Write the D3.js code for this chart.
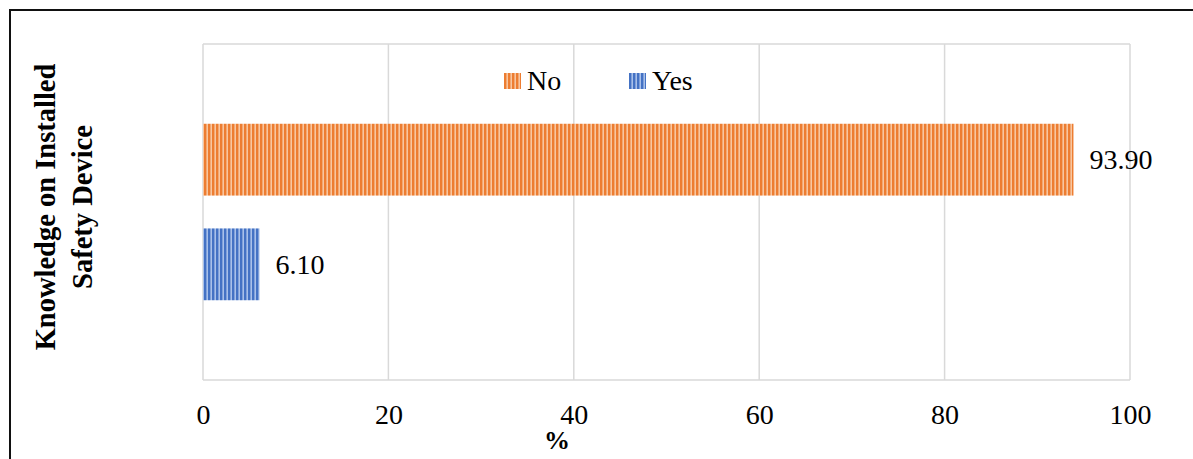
<!DOCTYPE html>
<html>
<head>
<meta charset="utf-8">
<script src="https://cdn.jsdelivr.net/npm/d3@7"></script>
<style>
  html, body { margin: 0; padding: 0; background: #fff; }
  svg { display: block; }
  text { font-family: "Liberation Serif", "Times New Roman", serif; fill: #000; }
</style>
</head>
<body>
<svg id="chart" width="1193" height="459"></svg>
<script>
// Survey response: knowledge on the installed safety device
const categories = ["No", "Yes"];
const values = [93.90, 6.10];
const xTicks = [0, 20, 40, 60, 80, 100];
const yTitleLines = ["Knowledge on Installed", "Safety Device"];
const xTitle = "%";

const palette = {
  No:  { dark: "#ED7D31", light: "#F8C6A0" },
  Yes: { dark: "#4472C4", light: "#A9C1EA" }
};

const svg = d3.select("#chart");
const W = 1193, H = 459;
const plot = { left: 203, right: 1130, top: 44, bottom: 380 };

// striped fills (narrow vertical pattern)
const defs = svg.append("defs");
categories.forEach(c => {
  const p = defs.append("pattern")
    .attr("id", "stripe-" + c)
    .attr("patternUnits", "userSpaceOnUse")
    .attr("width", 4).attr("height", 4);
  p.append("rect").attr("width", 4).attr("height", 4).attr("fill", palette[c].light);
  p.append("rect").attr("width", 2.4).attr("height", 4).attr("fill", palette[c].dark);
});

// outer frame
svg.append("rect")
  .attr("x", 10).attr("y", 10)
  .attr("width", W + 20).attr("height", H + 20)
  .attr("fill", "none").attr("stroke", "#111").attr("stroke-width", 2);

const x = d3.scaleLinear().domain([0, 100]).range([plot.left, plot.right]);
const y = d3.scaleBand().domain(categories)
  .range([plot.top, plot.bottom])
  .paddingInner(0.314).paddingOuter(0.762);

// gridlines
svg.append("g")
  .selectAll("line")
  .data(xTicks)
  .join("line")
  .attr("x1", d => x(d)).attr("x2", d => x(d))
  .attr("y1", plot.top).attr("y2", plot.bottom)
  .attr("stroke", "#d9d9d9").attr("stroke-width", 1.5);

// plot area border (top and bottom)
[plot.top, plot.bottom].forEach(yy => {
  svg.append("line")
    .attr("x1", plot.left).attr("x2", plot.right)
    .attr("y1", yy).attr("y2", yy)
    .attr("stroke", "#d9d9d9").attr("stroke-width", 1.5);
});

// bars
svg.append("g")
  .selectAll("rect")
  .data(categories)
  .join("rect")
  .attr("x", x(0))
  .attr("y", c => y(c))
  .attr("width", (c, i) => x(values[i]) - x(0))
  .attr("height", y.bandwidth())
  .attr("fill", c => "url(#stripe-" + c + ")");

// value labels
svg.append("g")
  .selectAll("text")
  .data(categories)
  .join("text")
  .attr("x", (c, i) => x(values[i]) + 16)
  .attr("y", c => y(c) + y.bandwidth() / 2)
  .attr("dy", "0.35em")
  .attr("font-size", 28)
  .text((c, i) => values[i].toFixed(2));

// x axis tick labels
const xAxis = d3.axisBottom(x).tickValues(xTicks).tickSize(0).tickPadding(0)
  .tickFormat(d3.format("d"));
const gx = svg.append("g")
  .attr("transform", `translate(0,${plot.bottom})`)
  .call(xAxis);
gx.select(".domain").remove();
gx.selectAll("text")
  .attr("font-family", "Liberation Serif, Times New Roman, serif")
  .attr("font-size", 28)
  .attr("fill", "#000")
  .attr("y", 44).attr("dy", 0);

// x axis title
svg.append("text")
  .attr("x", 557).attr("y", 449)
  .attr("text-anchor", "middle")
  .attr("font-size", 26).attr("font-weight", "bold")
  .text(xTitle);

// y axis title (two lines, rotated)
const yt = svg.append("text")
  .attr("transform", "translate(0,207) rotate(-90)")
  .attr("text-anchor", "middle")
  .attr("font-size", 28.5).attr("font-weight", "bold");
yTitleLines.forEach((line, i) => {
  yt.append("tspan").attr("x", 0).attr("y", 55 + i * 37).text(line);
});

// legend
const legendX = [504, 629];
const lg = svg.append("g")
  .selectAll("g")
  .data(categories)
  .join("g")
  .attr("transform", (c, i) => `translate(${legendX[i]},73)`);
lg.append("rect")
  .attr("width", 17).attr("height", 16)
  .attr("fill", c => "url(#stripe-" + c + ")");
lg.append("text")
  .attr("x", 23).attr("y", 17)
  .attr("font-size", 28)
  .text(c => c);
</script>
</body>
</html>
